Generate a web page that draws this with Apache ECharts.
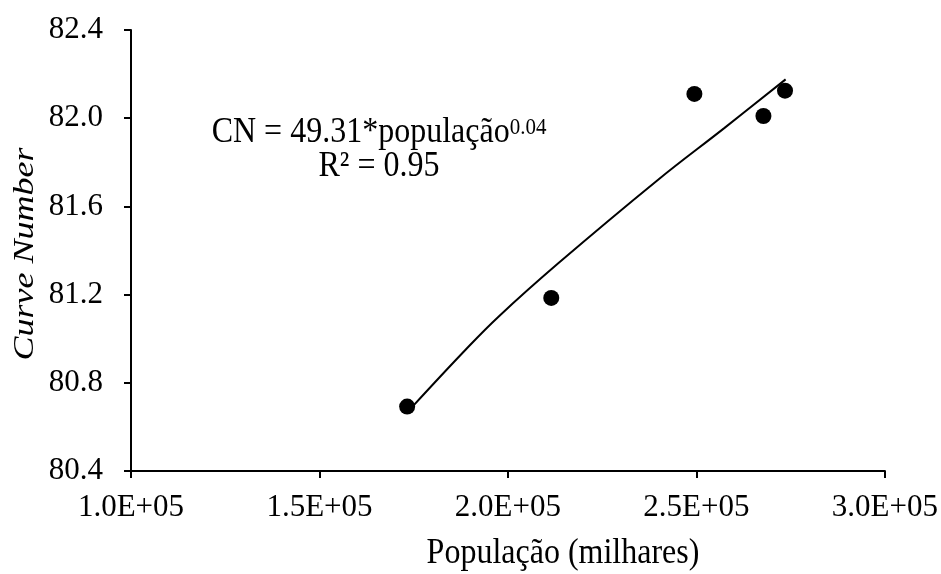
<!DOCTYPE html>
<html>
<head>
<meta charset="utf-8">
<script src="https://cdn.jsdelivr.net/npm/echarts@6/dist/echarts.min.js"></script>
<style>
  html, body { margin: 0; padding: 0; background: #fff; }
  #chart { width: 941px; height: 574px; }
</style>
</head>
<body>
<div id="chart"></div>
<script>
// observed points (population, curve number)
var popX = [173260, 211490, 249460, 267770, 273500];
var cnY = [80.692, 81.185, 82.11, 82.01, 82.125];

// power trend line
var trendX = [175030, 188690, 197490, 213340, 239760, 257380, 273660];
var trendY = [80.699, 80.949, 81.10, 81.342, 81.72, 81.955, 82.176];

var xTicks = ['1.0E+05', '1.5E+05', '2.0E+05', '2.5E+05', '3.0E+05'];
var yTicks = ['80.4', '80.8', '81.2', '81.6', '82.0', '82.4'];

var font = '"Liberation Serif", "Times New Roman", serif';

var chart = echarts.init(document.getElementById('chart'));

var option = {
  animation: false,
  backgroundColor: '#fff',
  textStyle: { fontFamily: font, color: '#000' },
  grid: { left: 131, right: 53, top: 30, bottom: 103 },
  xAxis: {
    type: 'value',
    min: 100000,
    max: 300000,
    interval: 50000,
    axisLine: { lineStyle: { color: '#000', width: 2 } },
    axisTick: { show: true, length: 7, lineStyle: { color: '#000', width: 2 } },
    splitLine: { show: false },
    axisLabel: {
      margin: 21,
      fontSize: 31,
      fontFamily: font,
      color: '#000',
      formatter: function (v) { return xTicks[Math.round((v - 100000) / 50000)]; }
    }
  },
  yAxis: {
    type: 'value',
    min: 80.4,
    max: 82.4,
    interval: 0.4,
    axisLine: { show: true, lineStyle: { color: '#000', width: 2 } },
    axisTick: { show: true, length: 7, lineStyle: { color: '#000', width: 2 } },
    splitLine: { show: false },
    axisLabel: {
      margin: 28,
      fontSize: 31,
      fontFamily: font,
      color: '#000',
      formatter: function (v) { return yTicks[Math.round((v - 80.4) / 0.4)]; }
    }
  },
  graphic: [
    {
      // y axis title (rotated, stretched along its length like the original)
      type: 'text',
      x: 25,
      y: 254,
      rotation: Math.PI / 2,
      scaleX: 1.2,
      style: {
        text: 'Curve Number',
        font: 'italic 30px ' + font,
        fill: '#000',
        textAlign: 'center',
        textVerticalAlign: 'middle'
      }
    },
    {
      type: 'text',
      x: 563,
      y: 553,
      scaleY: 1.15,
      style: {
        text: 'População (milhares)',
        font: '32px ' + font,
        fill: '#000',
        textAlign: 'center',
        textVerticalAlign: 'middle'
      }
    },
    {
      type: 'text',
      x: 379,
      y: 116,
      scaleY: 1.12,
      style: {
        text: '{a|CN = 49.31*população}{s|0.04}\n{a|R² = 0.95}',
        align: 'center',
        fill: '#000',
        rich: {
          a: { fontSize: 32, fontFamily: font, lineHeight: 30, color: '#000' },
          s: { fontSize: 21, fontFamily: font, lineHeight: 18, verticalAlign: 'top', color: '#000' }
        }
      }
    }
  ],
  series: [
    {
      type: 'line',
      data: trendX.map(function (x, i) { return [x, trendY[i]]; }),
      smooth: 0.4,
      showSymbol: false,
      lineStyle: { color: '#000', width: 2 },
      z: 2
    },
    {
      type: 'scatter',
      data: popX.map(function (x, i) { return [x, cnY[i]]; }),
      symbol: 'circle',
      symbolSize: 16,
      itemStyle: { color: '#000', opacity: 1 },
      z: 3
    }
  ]
};

chart.setOption(option);
</script>
</body>
</html>
